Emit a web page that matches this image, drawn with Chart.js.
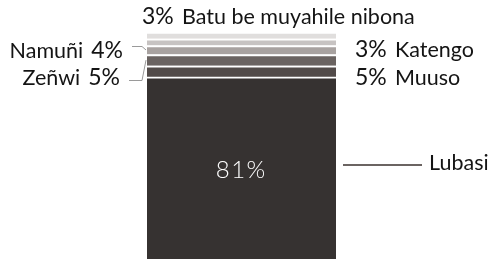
<!DOCTYPE html>
<html>
<head>
<meta charset="utf-8">
<script src="https://cdn.jsdelivr.net/npm/chart.js@4"></script>
<style>
  html, body { margin: 0; padding: 0; background: #fff; }
  #wrap { width: 491px; height: 262px; position: relative; }
</style>
</head>
<body>
<div id="wrap"><canvas id="shareChart"></canvas></div>
<script>
// bottom to top
const segments = ['Lubasi', 'Muuso', 'Zeñwi', 'Namuñi', 'Katengo', 'Batu be muyahile nibona'];
const shares = [81, 5, 5, 4, 3, 3];
const shades = ['#363231', '#524b49', '#6a6361', '#a8a2a0', '#c7c3c2', '#e0dedd'];

// where each label sits relative to its segment
const labelSpots = [
    { side: 'inside' },
    { side: 'right', dy: 14 },
    { side: 'left', dy: 25, lineY: 80, pctRight: 120 },
    { side: 'left', dy: 8, lineY: 46, pctRight: 123 },
    { side: 'right', dy: 15 },
    { side: 'top', dy: -8 }
];

const nameFont = '21.5px Lato';
const pctFont = '23px Lato';
const ink = '#141414';

const labelPlugin = {
    id: 'segmentLabels',
    afterDatasetsDraw(chart) {
        const c = chart.ctx;
        c.save();
        c.textBaseline = 'alphabetic';
        chart.data.datasets.forEach((ds, i) => {
            const bar = chart.getDatasetMeta(i).data[0];
            const left = bar.x - bar.width / 2;
            const right = bar.x + bar.width / 2;
            const mid = (bar.y + bar.base) / 2;
            const spot = labelSpots[i];
            const pct = shares[i] + '%';
            if (spot.side === 'inside') {
                c.fillStyle = '#fff';
                c.font = '300 24px Lato';
                c.textAlign = 'center';
                c.fillText(pct.split('').join(String.fromCharCode(8202)), bar.x - 1, 178);
                // leader to the right
                c.strokeStyle = '#6b6462';
                c.lineWidth = 2;
                c.beginPath();
                c.moveTo(right + 7, 165);
                c.lineTo(right + 86, 165);
                c.stroke();
                c.fillStyle = ink;
                c.font = nameFont;
                c.textAlign = 'left';
                c.fillText(segments[i], right + 93, 170);
            } else if (spot.side === 'right') {
                const x0 = right + 19;
                const yb = mid + spot.dy;
                c.fillStyle = ink;
                c.textAlign = 'left';
                c.font = pctFont;
                c.fillText(pct, x0, yb);
                c.font = nameFont;
                c.fillText(segments[i], x0 + 40, yb);
            } else if (spot.side === 'left') {
                const yb = mid + spot.dy;
                c.fillStyle = ink;
                c.textAlign = 'right';
                c.font = pctFont;
                c.fillText(pct, spot.pctRight, yb);
                const pw = c.measureText(pct).width;
                c.font = nameFont;
                c.fillText(segments[i], spot.pctRight - pw - 8, yb);
                // leader line
                c.strokeStyle = '#9a9a9a';
                c.lineWidth = 1;
                c.beginPath();
                c.moveTo(spot.pctRight + 9, spot.lineY + 0.5);
                c.lineTo(left - 5, spot.lineY + 0.5);
                c.lineTo(left - 1, mid);
                c.stroke();
            } else {
                const yb = bar.y + spot.dy;
                c.fillStyle = ink;
                c.textAlign = 'left';
                c.font = pctFont;
                c.fillText(pct, left - 5, yb);
                c.font = nameFont;
                c.fillText(segments[i], left + 35, yb);
            }
        });
        c.restore();
    }
};

const ctx = document.getElementById('shareChart').getContext('2d');
const chart = new Chart(ctx, {
    type: 'bar',
    data: {
        labels: [''],
        datasets: segments.map((name, i) => ({
            label: name,
            data: [shares[i]],
            backgroundColor: shades[i],
            borderColor: '#fff',
            borderWidth: { top: 2, bottom: 0, left: 0, right: 0 },
            borderSkipped: false,
            barPercentage: 1,
            categoryPercentage: 1
        }))
    },
    options: {
        responsive: true,
        maintainAspectRatio: false,
        animation: false,
        layout: { padding: { left: 147, right: 155, top: 32, bottom: 3 } },
        plugins: {
            legend: { display: false },
            tooltip: { enabled: false }
        },
        scales: {
            x: { stacked: true, display: false },
            y: { stacked: true, display: false, min: 0, max: 101 }
        }
    },
    plugins: [labelPlugin]
});
</script>
</body>
</html>
